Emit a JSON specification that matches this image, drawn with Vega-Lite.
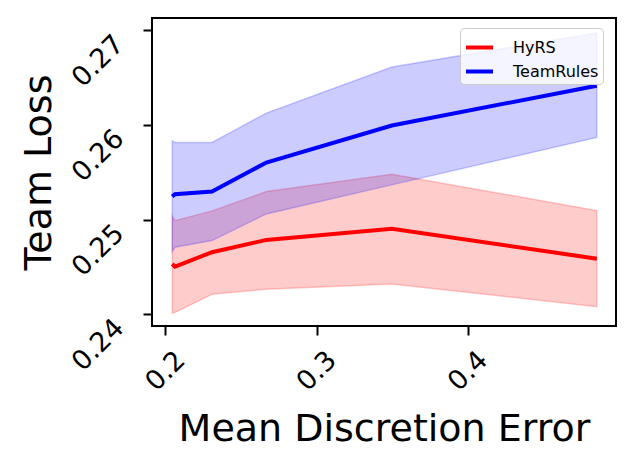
{
  "$schema": "https://vega.github.io/schema/vega-lite/v6.json",
  "width": 464,
  "height": 308,
  "autosize": {"type": "none"},
  "padding": {"left": 152, "top": 18, "right": 21, "bottom": 141},
  "background": "white",
  "config": {
    "font": "DejaVu Sans",
    "view": {"stroke": "black", "strokeWidth": 2},
    "axis": {"grid": false, "domain": false, "tickColor": "black", "tickWidth": 2, "tickSize": 9, "labelColor": "black", "titleColor": "black", "labelFont": "DejaVu Sans", "titleFont": "DejaVu Sans", "labelFontSize": 27, "titleFontSize": 38, "titleFontWeight": "normal"}
  },
  "data": {
    "values": [
      {"x": 0.2046, "series": "HyRS", "mean": 0.24532, "lo": 0.24011, "hi": 0.25040},
      {"x": 0.2064, "series": "HyRS", "mean": 0.24504, "lo": 0.24020, "hi": 0.24990},
      {"x": 0.2309, "series": "HyRS", "mean": 0.24656, "lo": 0.24212, "hi": 0.25093},
      {"x": 0.2668, "series": "HyRS", "mean": 0.24786, "lo": 0.24265, "hi": 0.25297},
      {"x": 0.3498, "series": "HyRS", "mean": 0.24903, "lo": 0.24321, "hi": 0.25481},
      {"x": 0.4853, "series": "HyRS", "mean": 0.24588, "lo": 0.24080, "hi": 0.25096},
      {"x": 0.2046, "series": "TeamRules", "mean": 0.25244, "lo": 0.24662, "hi": 0.25834},
      {"x": 0.2064, "series": "TeamRules", "mean": 0.25270, "lo": 0.24709, "hi": 0.25816},
      {"x": 0.2309, "series": "TeamRules", "mean": 0.25297, "lo": 0.24779, "hi": 0.25816},
      {"x": 0.2668, "series": "TeamRules", "mean": 0.25604, "lo": 0.25061, "hi": 0.26127},
      {"x": 0.3498, "series": "TeamRules", "mean": 0.25996, "lo": 0.25368, "hi": 0.26614},
      {"x": 0.4853, "series": "TeamRules", "mean": 0.26416, "lo": 0.25869, "hi": 0.26974}
    ]
  },
  "encoding": {
    "x": {
      "field": "x", "type": "quantitative",
      "scale": {"domain": [0.1912, 0.498], "nice": false, "zero": false},
      "axis": {"values": [0.2, 0.3, 0.4], "format": ".1f", "labelAngle": -45, "labelAlign": "center", "labelBaseline": "middle", "labelPadding": 36, "title": "Mean Discretion Error", "titleBaseline": "alphabetic", "titleY": 114}
    },
    "color": {
      "field": "series", "type": "nominal",
      "scale": {"domain": ["HyRS", "TeamRules"], "range": ["#ff0000", "#0000ff"]},
      "legend": {"title": null, "orient": "none", "legendX": 308, "legendY": 10, "symbolType": "stroke", "symbolSize": 729, "symbolStrokeWidth": 4, "symbolOpacity": 1, "labelFontSize": 16, "labelFont": "DejaVu Sans", "labelColor": "black", "labelOffset": 18, "rowPadding": 0, "padding": 4, "fillColor": "rgba(255,255,255,0.8)", "strokeColor": "#cccccc", "cornerRadius": 4}
    }
  },
  "layer": [
    {
      "mark": {"type": "area", "fillOpacity": 0.2, "strokeOpacity": 0.2, "strokeWidth": 1.5},
      "encoding": {
        "y": {
          "field": "lo", "type": "quantitative",
          "scale": {"domain": [0.23876, 0.27132], "nice": false, "zero": false},
          "axis": {"values": [0.24, 0.25, 0.26, 0.27], "format": ".2f", "labelAngle": -45, "labelAlign": "right", "labelBaseline": "top", "labelPadding": 33, "title": "Team Loss", "titleAngle": -90, "titleBaseline": "alphabetic", "titleAlign": "center", "titleX": -102, "titleY": 154}
        },
        "y2": {"field": "hi"},
        "stroke": {"field": "series", "type": "nominal", "scale": {"domain": ["HyRS", "TeamRules"], "range": ["#ff0000", "#0000ff"]}, "legend": null}
      }
    },
    {
      "mark": {"type": "line", "strokeWidth": 4},
      "encoding": {
        "y": {"field": "mean", "type": "quantitative"}
      }
    }
  ]
}
